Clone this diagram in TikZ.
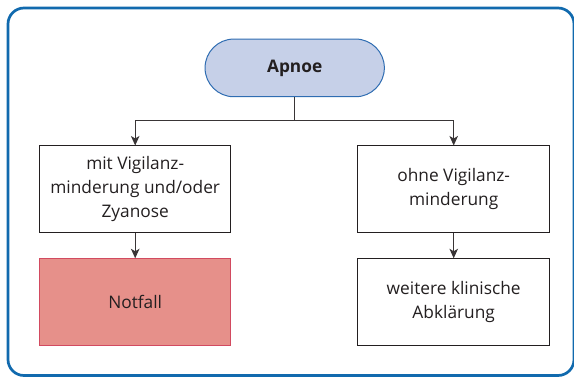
\documentclass[tikz,border=0pt]{standalone}
\usepackage{fontspec}
\setmainfont{Open Sans}
\usetikzlibrary{arrows.meta}
\definecolor{frameblue}{HTML}{116AAE}
\definecolor{pillfill}{HTML}{C6D0E8}
\definecolor{pilldraw}{HTML}{2F6DB2}
\definecolor{redfill}{HTML}{E6908A}
\definecolor{reddraw}{HTML}{D24A60}
\definecolor{ink}{HTML}{231F20}
\begin{document}
\begin{tikzpicture}[x=1pt,y=-1pt,
  box/.style={draw=ink, line width=1pt, fill=white, minimum width=191.5pt, minimum height=87pt, align=center, font=\fontsize{17.3}{24}\selectfont, text=ink, inner sep=2pt},
  conn/.style={draw=ink!90, line width=1pt},
  arr/.style={conn, -{Stealth[length=9.5pt,width=8.5pt,inset=2.5pt]}}]
\useasboundingbox (0,0) rectangle (574,377);
\draw[frameblue, line width=2.7pt, rounded corners=16pt] (8,8) rectangle (574,375.5);
\node[draw=pilldraw, fill=pillfill, line width=1pt, rounded corners=28.8pt, minimum width=179.3pt, minimum height=57.7pt, text=ink, font=\fontsize{17.3}{23}\selectfont\bfseries] (apnoe) at (294.7,67.9) {Apnoe};
\node[box] (l1) at (135.2,189.5) {mit Vigilanz-\\minderung und/oder\\Zyanose};
\node[box, fill=redfill, draw=reddraw] (l2) at (135.2,302.3) {Notfall};
\node[box] (r1) at (453.7,189.5) {ohne Vigilanz-\\minderung};
\node[box] (r2) at (453.7,302.3) {weitere klinische\\Abklärung};
\coordinate (split) at (294.7,120.7);
\draw[conn] (apnoe.south) -- (split);
\draw[arr] (split) -| (l1.north);
\draw[arr] (split) -| (r1.north);
\draw[arr] (l1) -- (l2);
\draw[arr] (r1) -- (r2);
\end{tikzpicture}
\end{document}
